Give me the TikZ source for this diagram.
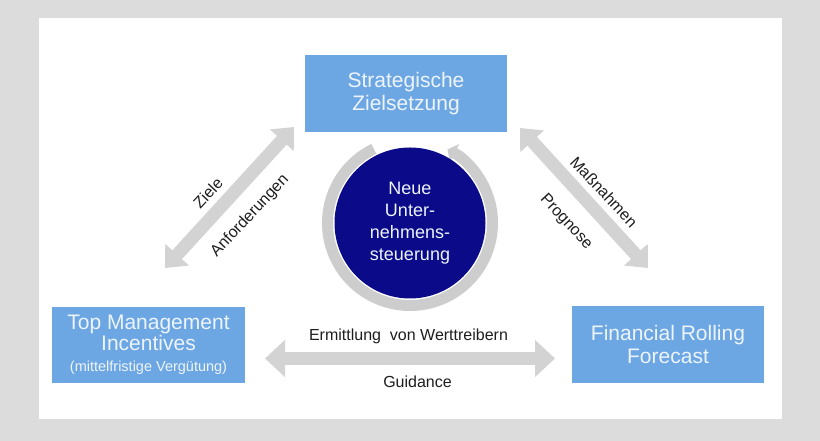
\documentclass[tikz,border=0pt]{standalone}
\usepackage{fontspec}
\setmainfont{Liberation Sans}
\usepackage{xcolor}
\definecolor{rahmenGrau}{HTML}{DCDCDC}
\definecolor{kastenBlau}{HTML}{6DA7E3}
\definecolor{kastenText}{HTML}{EDF4FC}
\definecolor{dunkelBlau}{HTML}{0B0B8A}
\definecolor{ringGrau}{HTML}{CDCDCD}
\definecolor{pfeilGrau}{HTML}{D3D3D3}
\definecolor{schrift}{HTML}{1E1E1E}
\usetikzlibrary{arrows.meta}

\begin{document}
\begin{tikzpicture}[x=1pt, y=1pt,
    every node/.style={inner sep=0pt},
    kasten/.style={fill=kastenBlau, text=kastenText, align=center,
      font=\fontsize{21}{23}\selectfont},
    beschriftung/.style={text=schrift, font=\fontsize{16}{18}\selectfont},
    blockpfeil/.style={pfeilGrau, line width=13pt,
      {Triangle[width=31pt,length=18pt]}-{Triangle[width=31pt,length=18pt]}}]

  \useasboundingbox (0,0) rectangle (820,441);

  % ── Hintergrund ───────────────────────────────────────────
  \fill[rahmenGrau] (0,0) rectangle (820,441);
  \fill[white] (39,22) rectangle (782,423);

  % ── Kästen ────────────────────────────────────────────────
  \node[kasten, minimum width=202pt, minimum height=77pt]
    (ziel) at (406,347.5) {Strategische\\Zielsetzung};
  \node[kasten, minimum width=193pt, minimum height=76pt,
        font=\fontsize{21}{21}\selectfont]
    (anreiz) at (148.5,96)
    {Top Management\\Incentives\\{\fontsize{14.5}{16}\selectfont(mittelfristige Vergütung)}};
  \node[kasten, minimum width=192pt, minimum height=77pt]
    (prognose) at (668,96.5) {Financial Rolling\\Forecast};

  % ── Kreis in der Mitte ────────────────────────────────────
  \draw[ringGrau, line width=11pt, -{Triangle[width=20pt,length=8pt]}]
    (410,218) ++(116:82.5) arc[start angle=116, end angle=423, radius=82.5];
  \node[circle, fill=dunkelBlau, minimum size=151pt, text=kastenText,
        align=center, font=\fontsize{18}{22}\selectfont]
    (kern) at (410,218) {Neue\\Unter-\\nehmens-\\steuerung};

  % ── Pfeile ────────────────────────────────────────────────
  \coordinate (zl-a) at (165,173);
  \coordinate (zl-b) at (294,314);
  \coordinate (zr-a) at (520,313);
  \coordinate (zr-b) at (648,173);
  \coordinate (hz-a) at (265,82.5);
  \coordinate (hz-b) at (555,82.5);
  \draw[blockpfeil] (zl-a) -- (zl-b);
  \draw[blockpfeil] (zr-a) -- (zr-b);
  \draw[blockpfeil, {Triangle[width=36pt,length=20pt]}-{Triangle[width=36pt,length=20pt]}]
    (hz-a) -- (hz-b);

  % ── Beschriftungen ────────────────────────────────────────
  \node[beschriftung, rotate=47] (lziele) at (208,248) {Ziele};
  \node[beschriftung, rotate=47] (lanf) at (250,225) {Anforderungen};
  \node[beschriftung, rotate=-47] (lmass) at (604,249) {Maßnahmen};
  \node[beschriftung, rotate=-47] (lprog) at (566,219) {Prognose};
  \node[beschriftung, anchor=base] (lwert) at (408.5,100.3)
    {Ermittlung~ von Werttreibern};
  \node[beschriftung, anchor=base] (lguid) at (417.5,53) {Guidance};

\end{tikzpicture}
\end{document}
